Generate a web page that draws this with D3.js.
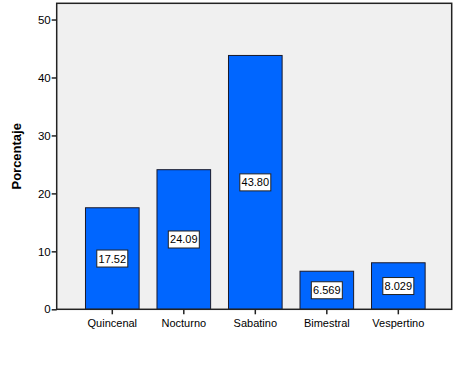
<!DOCTYPE html>
<html><head><meta charset="utf-8">
<script src="https://cdn.jsdelivr.net/npm/d3@7"></script>
<style>body{margin:0;background:#fff}svg{display:block}text{font-family:Arial,"Liberation Sans",sans-serif}</style>
</head><body>
<script>
const categories = ["Quincenal","Nocturno","Sabatino","Bimestral","Vespertino"];
const values = [17.52, 24.09, 43.80, 6.569, 8.029];
const labels = ["17.52","24.09","43.80","6.569","8.029"];
const yTicks = [0,10,20,30,40,50];

const W=460,H=367;
const L=56.7,R=451.7,T=3.3,B=309.3;
const svg=d3.select("body").append("svg").attr("width",W).attr("height",H);
const x=d3.scaleBand().domain(categories).range([L,R]).paddingInner(0.25).paddingOuter(0.387).align(0.52);
const y=d3.scaleLinear().domain([0,52.8]).range([B,T]);

svg.append("rect").attr("x",L).attr("y",T).attr("width",R-L).attr("height",B-T).attr("fill","#f0f0f0");

svg.selectAll("rect.bar").data(values).enter().append("rect").attr("class","bar")
 .attr("x",(d,i)=>x(categories[i])).attr("y",d=>y(d))
 .attr("width",x.bandwidth()).attr("height",d=>B-y(d))
 .attr("fill","#0066ff").attr("stroke","#1a1a2a").attr("stroke-width",1);

svg.append("rect").attr("x",L).attr("y",T).attr("width",R-L).attr("height",B-T).attr("fill","none").attr("stroke","#222").attr("stroke-width",1.5);

const ya=svg.append("g").attr("transform",`translate(${L},0)`).call(d3.axisLeft(y).tickValues(yTicks).tickSize(5).tickFormat(d3.format("d")));
ya.select(".domain").remove();
ya.selectAll("line").attr("stroke","#222").attr("stroke-width",1.5);
ya.selectAll("text").attr("font-size",11.5).attr("fill","#000").attr("x",-6);

const xa=svg.append("g").attr("transform",`translate(0,${B})`).call(d3.axisBottom(x).tickSize(5));
xa.select(".domain").remove();
xa.selectAll("line").attr("stroke","#222").attr("stroke-width",1.5);
xa.selectAll("text").attr("font-size",11).attr("fill","#000").attr("dy","0.9em");

svg.append("text").attr("transform",`translate(21,${(T+B)/2}) rotate(-90)`).attr("text-anchor","middle")
 .attr("font-size",13).attr("font-weight","bold").text("Porcentaje");

const g=svg.selectAll("g.lab").data(values).enter().append("g").attr("class","lab")
 .attr("transform",(d,i)=>`translate(${x(categories[i])+x.bandwidth()/2},${(y(d)+B)/2})`);
g.append("rect").attr("x",-15.5).attr("y",-8.5).attr("width",31).attr("height",17).attr("fill","#fff").attr("stroke","#222").attr("stroke-width",1);
g.append("text").attr("text-anchor","middle").attr("dy","0.36em").attr("font-size",11).text((d,i)=>labels[i]);
</script>
</body></html>
